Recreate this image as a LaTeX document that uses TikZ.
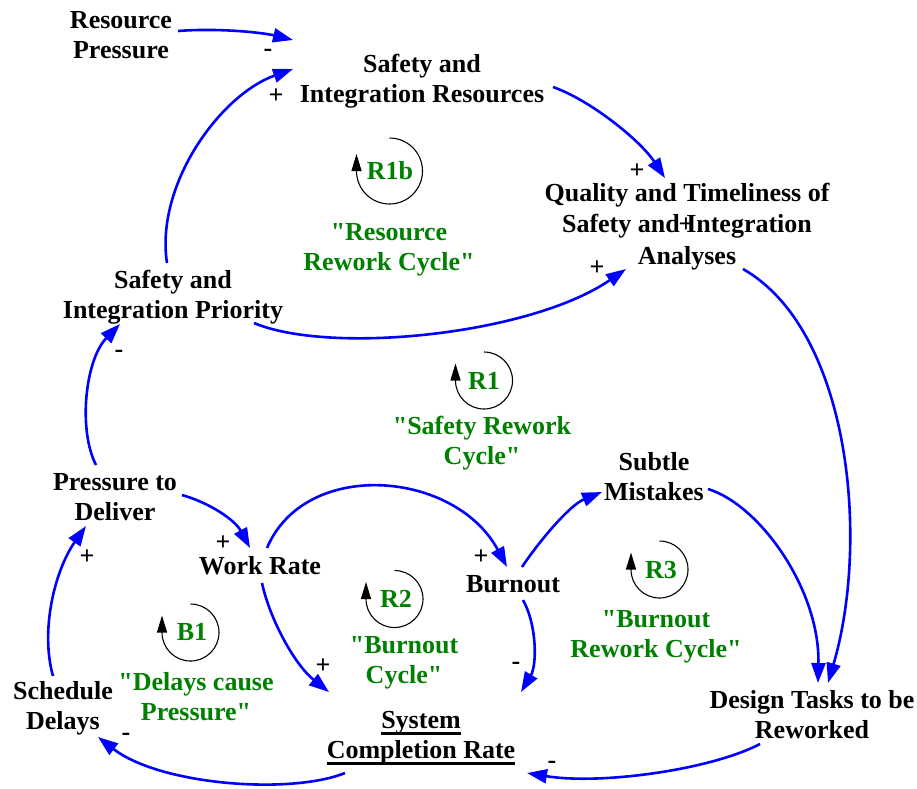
\documentclass[tikz,border=0pt]{standalone}
\usepackage{fontspec}
\setmainfont{Liberation Serif}[Ligatures=TeXOff]
\usetikzlibrary{arrows.meta,calc}
\definecolor{cldgreen}{RGB}{0,128,0}
\definecolor{cldblue}{RGB}{0,0,255}
\newcommand\vs{\rule[-6.5pt]{0pt}{30pt}}
\newcommand\vsq{\rule[-7pt]{0pt}{31.5pt}}
\newsavebox\ulbox
\newcommand\ulin[1]{\sbox\ulbox{#1}\rlap{\rule[-6pt]{\wd\ulbox}{2.2pt}}\usebox\ulbox}
\tikzset{
  var/.style={font=\bfseries\fontsize{26}{30}\selectfont, align=center, inner sep=0pt, text=black},
  varq/.style={font=\bfseries\fontsize{26}{31.5}\selectfont, align=center, inner sep=0pt, text=black},
  looptext/.style={var, text=cldgreen},
  pol/.style={font=\bfseries\fontsize{26}{30}\selectfont, inner sep=0pt, text=black},
  link/.style={draw=cldblue, line width=2.6pt, -{Triangle[length=20pt,width=14pt]}},
  looparc/.style={draw=black, line width=1.1pt, -{Triangle[length=17pt,width=10pt]}},
}
\begin{document}
\begin{tikzpicture}[x=1pt,y=-1pt]
\useasboundingbox (0,0) rectangle (917,788);
% variables
\node[var] (rp)  at (121,35)  {\vs Resource\\\vs Pressure};
\node[var] (sir) at (422,79)  {\vs Safety and\\\vs Integration Resources};
\node[varq] (q)  at (687,224) {\vsq Quality and Timeliness of\\\vsq Safety and Integration\\\vsq Analyses};
\node[var] (sip) at (173,295) {\vs Safety and\\\vs Integration Priority};
\node[var] (sm)  at (654,477) {\vs Subtle\\\vs Mistakes};
\node[var] (ptd) at (115,497) {\vs Pressure to\\\vs Deliver};
\node[var] (wr)  at (260,566) {\vs Work Rate};
\node[var] (sd)  at (63,706)  {\vs Schedule\\\vs Delays};
\node[var] (scr) at (421,735) {\vs\ulin{System}\\\vs\ulin{Completion Rate}};
\node[var] (bo)  at (513,584) {\vs Burnout};
\node[var] (dt)  at (812,715) {\vs Design Tasks to be\\\vs Reworked};
% loop names
\node[looptext] (t1b) at (389,247) {\vs "Resource\\\vs Rework Cycle"};
\node[looptext] (t1)  at (482,441) {\vs "Safety Rework\\\vs Cycle"};
\node[looptext] (tb1) at (196,697) {\vs "Delays cause\\\vs Pressure"};
\node[looptext] (t2)  at (404,660) {\vs "Burnout\\\vs Cycle"};
\node[looptext] (t3)  at (656,634) {\vs "Burnout\\\vs Rework Cycle"};
% loop symbols
\node[looptext] (r1b) at (390,171) {\vs R1b};
\draw[looparc] (389.5,138) arc[start angle=-90,end angle=180,radius=33] -- ++(0,-17);
\node[looptext] (r1) at (484,381) {\vs R1};
\draw[looparc] (484,352) arc[start angle=-90,end angle=180,radius=28.5] -- ++(0,-17);
\node[looptext] (b1) at (192,632) {\vs B1};
\draw[looparc] (190.5,604) arc[start angle=-90,end angle=180,radius=28.5] -- ++(0,-17);
\node[looptext] (r2) at (396,599) {\vs R2};
\draw[looparc] (394.5,570.5) arc[start angle=-90,end angle=180,radius=28.5] -- ++(0,-17);
\node[looptext] (r3) at (661,570) {\vs R3};
\draw[looparc] (659.5,541) arc[start angle=-90,end angle=180,radius=28.5] -- ++(0,-17);
% links
\draw[link] ($(rp)+(57,-4)$) .. controls (215,28) and (260,32) .. ($(sir)+(-129,-39)$);
\draw[link] ($(sip)+(-6,-32)$) .. controls (155,185) and (220,95) .. ($(sir)+(-129,-10)$);
\draw[link] ($(sir)+(131,8)$) .. controls (590,100) and (640,140) .. ($(q)+(-22,-46)$);
\draw[link] ($(sip)+(81,28)$) .. controls (330,355) and (530,335) .. ($(q)+(-61,45)$);
\draw[link] ($(q)+(56,45)$) .. controls (850,330) and (870,540) .. ($(dt)+(16,-32)$);
\draw[link] ($(sm)+(54,12)$) .. controls (760,505) and (820,590) .. ($(dt)+(6,-32)$);
\draw[link] ($(bo)+(9,-17)$) .. controls (540,540) and (570,505) .. ($(sm)+(-52,15)$);
\draw[link] ($(ptd)+(67,-2)$) .. controls (210,503) and (235,520) .. ($(wr)+(-10,-18)$);
\draw[link] ($(ptd)+(-19,-32)$) .. controls (78,430) and (85,360) .. ($(sip)+(-53,29)$);
\draw[link] ($(sd)+(-10,-30)$) .. controls (40,630) and (55,570) .. ($(ptd)+(-29,29)$);
\draw[link] ($(scr)+(-76,38)$) .. controls (290,795) and (160,785) .. ($(sd)+(35,31)$);
\draw[link] ($(wr)+(2,17)$) .. controls (270,620) and (295,665) .. ($(scr)+(-92,-43)$);
\draw[link] ($(wr)+(7,-18)$) .. controls (305,458) and (455,470) .. ($(bo)+(-6,-17)$);
\draw[link] ($(bo)+(10,16)$) .. controls (537,625) and (537,665) .. ($(scr)+(100,-43)$);
\draw[link] ($(dt)+(-52,29)$) .. controls (710,770) and (600,785) .. ($(scr)+(106,38)$);
% polarities
\node[pol] (p1)  at (268,53)  {-};
\node[pol] (p2)  at (276,96)  {+};
\node[pol] (p3)  at (637,171) {+};
\node[pol] (p4)  at (597,268) {+};
\node[pol] (p5)  at (686,225) {+};
\node[pol] (p6)  at (119,354) {-};
\node[pol] (p7)  at (87,557)  {+};
\node[pol] (p8)  at (223,543) {+};
\node[pol] (p9)  at (323,666) {+};
\node[pol] (p10) at (126,737) {-};
\node[pol] (p11) at (481,557) {+};
\node[pol] (p12) at (516,666) {-};
\node[pol] (p13) at (552,765) {-};
\end{tikzpicture}
\end{document}
